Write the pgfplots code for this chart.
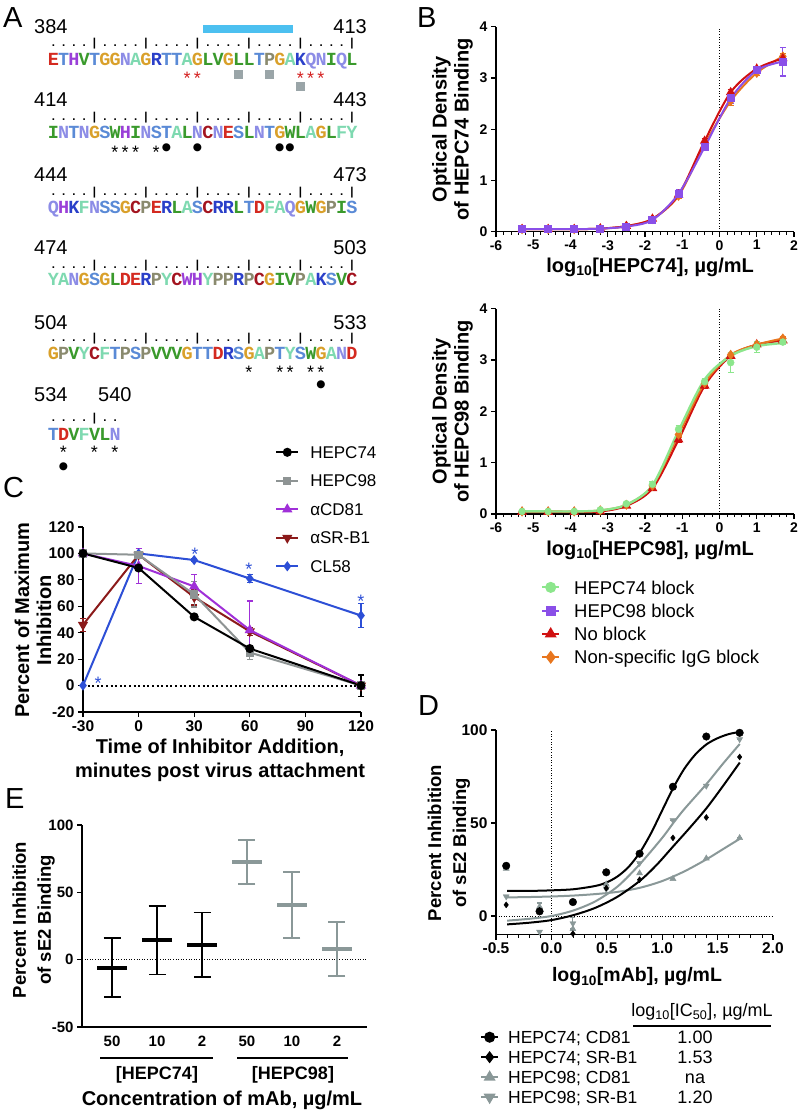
\documentclass[border=0pt]{standalone}
\usepackage{fontspec}
\setmainfont{Liberation Sans}
\newfontfamily\seqfont{Liberation Mono}
\newfontfamily\symfont{DejaVu Sans}
\usepackage{pgfplots}
\pgfplotsset{compat=1.18}
\newcommand\fs[2]{\fontsize{#1}{#2}\selectfont}
% residue colours
\definecolor{colE}{HTML}{D42A20}\definecolor{colD}{HTML}{D42A20}
\definecolor{colC}{HTML}{A3141F}
\definecolor{colT}{HTML}{5A8AD6}\definecolor{colS}{HTML}{5A8AD6}
\definecolor{colH}{HTML}{9A3FD8}\definecolor{colw}{HTML}{9A3FD8}
\definecolor{colV}{HTML}{3A9A2C}\definecolor{colL}{HTML}{3A9A2C}\definecolor{colI}{HTML}{3A9A2C}\definecolor{colW}{HTML}{3A9A2C}
\definecolor{colG}{HTML}{D9A02A}
\definecolor{colN}{HTML}{8C8CE6}\definecolor{colQ}{HTML}{8C8CE6}
\definecolor{colA}{HTML}{7ED9B0}\definecolor{colF}{HTML}{7ED9B0}\definecolor{colY}{HTML}{7ED9B0}
\definecolor{colR}{HTML}{2A3FC9}\definecolor{colK}{HTML}{2A3FC9}
\definecolor{colP}{HTML}{8A8A6E}
\definecolor{barblue}{HTML}{4CC0F0}
\definecolor{sqgray}{HTML}{9AA5A8}
\definecolor{astred}{HTML}{D42020}
% chart colours
\definecolor{grn}{HTML}{8CE68C}
\definecolor{pur}{HTML}{8A4FE8}
\definecolor{nored}{HTML}{D01010}
\definecolor{org}{HTML}{E8761E}
\definecolor{cgray}{HTML}{8E9494}
\definecolor{cpur}{HTML}{A030D8}
\definecolor{cdred}{HTML}{8B1A1A}
\definecolor{cblue}{HTML}{2D4FD6}
\definecolor{dgray}{HTML}{8A9898}
\makeatletter
\def\seq@loop#1{\ifx#1\relax\else\makebox[10.3pt]{\textcolor{col#1}{\uppercase{#1}}}\expandafter\seq@loop\fi}
\newcommand\seq[1]{{\seqfont\bfseries\fs{18.5}{18}\seq@loop#1\relax}}
\def\rul@loop#1{\ifx#1\relax\else\makebox[10.3pt]{#1}\expandafter\rul@loop\fi}
\newcommand\ruler[1]{{\bfseries\fs{11.5}{11}\rul@loop#1\relax}}
\makeatother
\newcommand\astm[3]{\node[anchor=base,inner sep=0,font=\fs{18}{18},text=#3] at ({53.15+10.3*#1},-#2) {*};}
\newcommand\dotm[2]{\node[anchor=center,inner sep=0,font=\symfont\fs{10.5}{10.5}] at ({53.15+10.3*#1},-#2) {●};}
\newcommand\sqm[2]{\node[anchor=center,inner sep=0] at ({53.15+10.3*#1},-#2) {\textcolor{sqgray}{\rule{9.5pt}{9.5pt}}};}
\pgfplotsset{
  myaxis/.style={
    scale only axis,
    axis lines=left,
    axis line style={-, line width=1.3pt, black},
    tick align=outside,
    major tick length=5pt,
    minor tick length=3pt,
    tick style={black, line width=1.1pt},
    minor tick style={line width=0.8pt},
    tick label style={font=\bfseries\fs{14}{14}},
    /pgf/number format/assume math mode=true,
    label style={font=\bfseries\fs{20}{22}, align=center},
    clip=false,
  },
  eb/.style={error bars/y dir=both, error bars/y explicit,
    error bars/error bar style={line width=1.2pt, solid},
    error bars/error mark options={rotate=90, mark size=#1, line width=1.2pt, solid}},
  eb/.default=3pt,
}
\begin{document}
\begin{tikzpicture}[x=1pt,y=1pt]
\path[use as bounding box] (0,0) rectangle (802,-1114);
% ================= Panel A =================
\node[anchor=base west,inner sep=0,font=\fs{29}{29}] at (3,-27) {A};
\fill[barblue] (203,-25) rectangle (293,-33);
% row 1
\node[anchor=base west,inner sep=0,font=\fs{20}{20}] at (34,-33) {384};
\node[anchor=base east,inner sep=0,font=\fs{20}{20}] at (367,-33) {413};
\node[anchor=base west,inner sep=0] at (48,-46.7) {\ruler{....|....|....|....|....|....|}};
\node[anchor=base west,inner sep=0] at (48,-65) {\seq{ETHVTGGNAGRTTAGLVGLLTPGAKQNIQL}};
\astm{13}{84.3}{astred}\astm{14}{84.3}{astred}
\astm{24}{84.3}{astred}\astm{25}{84.3}{astred}\astm{26}{84.3}{astred}
\sqm{18}{74.5}\sqm{21}{74.5}\sqm{24}{86.5}
% row 2
\node[anchor=base west,inner sep=0,font=\fs{20}{20}] at (34,-106) {414};
\node[anchor=base east,inner sep=0,font=\fs{20}{20}] at (367,-106) {443};
\node[anchor=base west,inner sep=0] at (48,-120) {\ruler{....|....|....|....|....|....|}};
\node[anchor=base west,inner sep=0] at (48,-138) {\seq{INTNGSWHINSTALNCNESLNTGWLAGLFY}};
\astm{6}{158.3}{black}\astm{7}{158.3}{black}\astm{8}{158.3}{black}\astm{10}{158.3}{black}
\dotm{11}{148}\dotm{14}{148}\dotm{22}{148}\dotm{23}{148}
% row 3
\node[anchor=base west,inner sep=0,font=\fs{20}{20}] at (34,-181) {444};
\node[anchor=base east,inner sep=0,font=\fs{20}{20}] at (367,-181) {473};
\node[anchor=base west,inner sep=0] at (48,-195) {\ruler{....|....|....|....|....|....|}};
\node[anchor=base west,inner sep=0] at (48,-213.5) {\seq{QHKFNSSGCPERLASCRRLTDFAQGWGPIS}};
% row 4
\node[anchor=base west,inner sep=0,font=\fs{20}{20}] at (34,-254) {474};
\node[anchor=base east,inner sep=0,font=\fs{20}{20}] at (367,-254) {503};
\node[anchor=base west,inner sep=0] at (48,-268) {\ruler{....|....|....|....|....|....|}};
\node[anchor=base west,inner sep=0] at (48,-285.5) {\seq{YANGSGLDERPYCwHYPPRPCGIVPAKSVC}};
% row 5
\node[anchor=base west,inner sep=0,font=\fs{20}{20}] at (34,-329) {504};
\node[anchor=base east,inner sep=0,font=\fs{20}{20}] at (367,-329) {533};
\node[anchor=base west,inner sep=0] at (48,-341) {\ruler{....|....|....|....|....|....|}};
\node[anchor=base west,inner sep=0] at (48,-359.5) {\seq{GPVYCFTPSPVVVGTTDRSGAPTYSWGAND}};
\astm{19}{378}{black}\astm{22}{378}{black}\astm{23}{378}{black}\astm{25}{378}{black}\astm{26}{378}{black}
\dotm{26}{385}
% row 6
\node[anchor=base west,inner sep=0,font=\fs{20}{20}] at (34,-401) {534};
\node[anchor=base west,inner sep=0,font=\fs{20}{20}] at (98,-401) {540};
\node[anchor=base west,inner sep=0] at (48,-421) {\ruler{....|..}};
\node[anchor=base west,inner sep=0] at (48,-440) {\seq{TDVFVLN}};
\astm{1}{458.5}{black}\astm{4}{458.5}{black}\astm{6}{458.5}{black}
\dotm{1}{466.5}
% ================= Panel letters =================
\node[anchor=base west,inner sep=0,font=\fs{29}{29}] at (417,-27) {B};
\node[anchor=base west,inner sep=0,font=\fs{29}{29}] at (3,-497) {C};
\node[anchor=base west,inner sep=0,font=\fs{29}{29}] at (418,-715) {D};
\node[anchor=base west,inner sep=0,font=\fs{29}{29}] at (5,-808) {E};
% ================= Panel B top =================
\begin{axis}[myaxis, at={(496pt,-231.7pt)}, anchor=south west, width=298pt, height=205pt,
  xmin=-6, xmax=2, ymin=0, ymax=4, xtick={-6,...,2}, ytick={0,...,4}, minor x tick num=4,
  ylabel={Optical Density\\of HEPC74 Binding},
  ylabel style={at={(axis description cs:-0.146,0.5)}, anchor=center},
  xlabel={log\textsubscript{10}[HEPC74], µg/mL},
  xlabel style={at={(axis description cs:0.517,-0.175)}, anchor=center}]
\addplot[forget plot, black, dotted, line width=0.7pt] coordinates {(0,0) (0,4)};
\addplot[forget plot, org, line width=2pt, smooth, mark=diamond*, mark size=3.5pt, mark options={solid}, eb] coordinates {
(-5.3,0.05) +- (0,0) (-4.6,0.05) +- (0,0) (-3.9,0.05) +- (0,0) (-3.2,0.06) +- (0,0) (-2.5,0.11) +- (0,0)
(-1.8,0.25) +- (0,0) (-1.1,0.70) +- (0,0.05) (-0.4,1.70) +- (0,0.05) (0.3,2.55) +- (0,0.08) (1.0,3.10) +- (0,0.05) (1.7,3.42) +- (0,0.05)};
\addplot[forget plot, nored, line width=2pt, smooth, mark=triangle*, mark size=3.5pt, mark options={solid}, eb] coordinates {
(-5.3,0.05) +- (0,0) (-4.6,0.05) +- (0,0) (-3.9,0.05) +- (0,0) (-3.2,0.06) +- (0,0) (-2.5,0.11) +- (0,0)
(-1.8,0.25) +- (0,0) (-1.1,0.72) +- (0,0.04) (-0.4,1.77) +- (0,0.05) (0.3,2.72) +- (0,0.05) (1.0,3.18) +- (0,0.03) (1.7,3.38) +- (0,0.03)};
\addplot[forget plot, pur, line width=2pt, smooth, mark=square*, mark size=3pt, mark options={solid}, eb] coordinates {
(-5.3,0.05) +- (0,0) (-4.6,0.05) +- (0,0) (-3.9,0.05) +- (0,0) (-3.2,0.06) +- (0,0) (-2.5,0.10) +- (0,0)
(-1.8,0.23) +- (0,0.02) (-1.1,0.74) +- (0,0.08) (-0.4,1.65) +- (0,0.04) (0.3,2.60) +- (0,0.1) (1.0,3.15) +- (0,0.05) (1.7,3.32) +- (0,0.28)};
\end{axis}
% ================= Panel B bottom =================
\begin{axis}[myaxis, at={(496pt,-514pt)}, anchor=south west, width=298pt, height=205.3pt,
  xmin=-6, xmax=2, ymin=0, ymax=4, xtick={-6,...,2}, ytick={0,...,4}, minor x tick num=4,
  ylabel={Optical Density\\of HEPC98 Binding},
  ylabel style={at={(axis description cs:-0.146,0.5)}, anchor=center},
  xlabel={log\textsubscript{10}[HEPC98], µg/mL},
  xlabel style={at={(axis description cs:0.517,-0.175)}, anchor=center},
  legend style={at={(axis description cs:0.151,-0.2996)}, anchor=north west, draw=none, fill=none,
    font=\fs{18.5}{18.5}, inner sep=0pt, nodes={inner sep=0pt, text height=18.3pt, text depth=5pt},
    column sep=14pt, row sep=0pt},
  legend cell align=left,
  legend image code/.code={\draw[mark repeat=2,mark phase=2] plot coordinates {(0pt,0pt) (8.5pt,0pt) (17pt,0pt)};}]
\addlegendimage{grn, line width=2pt, mark=*, mark size=4.5pt, mark options={solid}}
\addlegendimage{pur, line width=2pt, mark=square*, mark size=4pt, mark options={solid}}
\addlegendimage{nored, line width=2pt, mark=triangle*, mark size=5pt, mark options={solid}}
\addlegendimage{org, line width=2pt, mark=diamond*, mark size=5pt, mark options={solid}}
\legend{HEPC74 block, HEPC98 block, No block, Non-specific IgG block}
\addplot[forget plot, black, dotted, line width=0.7pt] coordinates {(0,0) (0,4)};
\addplot[forget plot, nored, line width=2.2pt, smooth, mark=triangle*, mark size=3.5pt, mark options={solid}, eb] coordinates {
(-5.3,0.04) +- (0,0) (-4.6,0.04) +- (0,0) (-3.9,0.04) +- (0,0) (-3.2,0.05) +- (0,0) (-2.5,0.16) +- (0,0.03)
(-1.8,0.50) +- (0,0.04) (-1.1,1.45) +- (0,0.05) (-0.4,2.50) +- (0,0.05) (0.3,3.08) +- (0,0.04) (1.0,3.30) +- (0,0.04) (1.7,3.38) +- (0,0.03)};
\addplot[forget plot, org, line width=2pt, smooth, mark=diamond*, mark size=3.5pt, mark options={solid}, eb] coordinates {
(-5.3,0.05) +- (0,0) (-4.6,0.05) +- (0,0) (-3.9,0.05) +- (0,0) (-3.2,0.07) +- (0,0) (-2.5,0.18) +- (0,0)
(-1.8,0.55) +- (0,0.03) (-1.1,1.55) +- (0,0.05) (-0.4,2.55) +- (0,0.05) (0.3,3.10) +- (0,0.05) (1.0,3.30) +- (0,0.05) (1.7,3.42) +- (0,0.03)};
\addplot[forget plot, grn, line width=2.4pt, smooth] coordinates {
(-5.3,0.05) (-4.6,0.05) (-3.9,0.05) (-3.2,0.07) (-2.5,0.18) (-1.8,0.56) (-1.1,1.62) (-0.4,2.62) (0.3,3.08) (1.0,3.27) (1.7,3.33)};
\addplot[forget plot, grn, only marks, mark=*, mark size=3.5pt, eb] coordinates {
(-5.3,0.05) +- (0,0) (-4.6,0.05) +- (0,0) (-3.9,0.05) +- (0,0) (-3.2,0.08) +- (0,0) (-2.5,0.20) +- (0,0.02)
(-1.8,0.58) +- (0,0.06) (-1.1,1.65) +- (0,0.07) (-0.4,2.58) +- (0,0.06) (0.3,2.95) +- (0,0.2) (1.0,3.25) +- (0,0.1) (1.7,3.35) +- (0,0.04)};
\end{axis}
% ================= Panel C =================
\begin{axis}[myaxis, at={(83pt,-712pt)}, anchor=south west, width=278pt, height=185pt,
  xmin=-30, xmax=120, ymin=-20, ymax=120, xtick={-30,0,30,60,90,120}, ytick={-20,0,20,...,120},
  tick label style={font=\bfseries\fs{15.5}{15.5}},
  ylabel={Percent of Maximum\\Inhibition},
  ylabel style={at={(axis description cs:-0.18,0.497)}, anchor=center, font=\bfseries\fs{20}{22}},
  xlabel={Time of Inhibitor Addition,\\minutes post virus attachment},
  xlabel style={at={(axis description cs:0.493,-0.26)}, anchor=center, font=\bfseries\fs{20}{24}},
  legend style={at={(axis description cs:0.691,1.482)}, anchor=north west, draw=none, fill=none,
    font=\fs{17}{17}, inner sep=0pt, nodes={inner sep=0pt, text height=20.3pt, text depth=8.2pt},
    column sep=11pt, row sep=0pt},
  legend cell align=left,
  legend image code/.code={\draw[mark repeat=2,mark phase=2] plot coordinates {(0pt,0pt) (11pt,0pt) (22pt,0pt)};}]
\addlegendimage{black, line width=2pt, mark=*, mark size=3.5pt, mark options={solid}}
\addlegendimage{cgray, line width=2pt, mark=square*, mark size=3.2pt, mark options={solid}}
\addlegendimage{cpur, line width=2pt, mark=triangle*, mark size=4pt, mark options={solid}}
\addlegendimage{cdred, line width=2pt, mark=triangle*, mark size=4pt, mark options={solid, rotate=180}}
\addlegendimage{cblue, line width=2pt, mark=diamond*, mark size=3.5pt, mark options={solid}}
\legend{HEPC74, HEPC98, αCD81, αSR-B1, CL58}
\addplot[forget plot, black, line width=2pt, dash pattern=on 2pt off 2.6pt] coordinates {(-30,0) (120,0)};
\addplot[forget plot, cblue, line width=2pt, mark=diamond*, mark size=3.5pt, mark options={solid}, eb] coordinates {
(-30,0) +- (0,0) (0,100) +- (0,1) (30,95) +- (0,1) (60,81) +- (0,3) (120,53) +- (0,9)};
\addplot[forget plot, cdred, line width=2pt, mark=triangle*, mark size=4pt, mark options={solid, rotate=180}, eb] coordinates {
(-30,46) +- (0,5) (0,99) +- (0,2) (30,67) +- (0,6) (60,41) +- (0,3) (120,0) +- (0,1)};
\addplot[forget plot, cpur, line width=2pt, mark=triangle*, mark size=4pt, mark options={solid}, eb] coordinates {
(-30,100) +- (0,0) (0,90.5) +- (0,13.5) (30,75) +- (0,9) (60,42) +- (0,22) (120,0) +- (0,1)};
\addplot[forget plot, cgray, line width=2pt, mark=square*, mark size=3.2pt, mark options={solid}, eb] coordinates {
(-30,100) +- (0,0) (0,99) +- (0,2) (30,69) +- (0,9.5) (60,25) +- (0,5) (120,0) +- (0,1)};
\addplot[forget plot, black, line width=2pt, mark=*, mark size=3.5pt, mark options={solid}, eb] coordinates {
(-30,100) +- (0,0) (0,89) +- (0,1) (30,52) +- (0,1) (60,28) +- (0,2) (120,0) +- (0,8)};
\node[anchor=base, inner sep=0, text=cblue, font=\fs{18}{18}] at (axis cs:-21.9,-3.2) {*};
\node[anchor=base, inner sep=0, text=cblue, font=\fs{18}{18}] at (axis cs:30.4,94.3) {*};
\node[anchor=base, inner sep=0, text=cblue, font=\fs{18}{18}] at (axis cs:59.5,83) {*};
\node[anchor=base, inner sep=0, text=cblue, font=\fs{18}{18}] at (axis cs:119.9,59) {*};
\end{axis}
% ================= Panel D =================
\begin{axis}[myaxis, at={(496pt,-934.6pt)}, anchor=south west, width=277pt, height=204.6pt,
  xmin=-0.5, xmax=2, ymin=-10, ymax=100, xtick={-0.5,0,0.5,1,1.5,2}, ytick={0,50,100}, minor x tick num=4,
  tick label style={font=\bfseries\fs{15.5}{15.5}},
  xticklabel style={/pgf/number format/.cd, fixed, fixed zerofill, precision=1},
  ylabel={Percent Inhibition\\of sE2 Binding},
  ylabel style={at={(axis description cs:-0.17,0.448)}, anchor=center, font=\bfseries\fs{18.5}{25}},
  xlabel={log\textsubscript{10}[mAb], µg/mL},
  xlabel style={at={(axis description cs:0.509,-0.207)}, anchor=center, font=\bfseries\fs{19.5}{20}},
  legend style={at={(axis description cs:-0.058,-0.4516)}, anchor=north west, draw=none, fill=none,
    font=\fs{17.5}{17.5}, inner sep=0pt, nodes={inner sep=0pt, text height=16.3pt, text depth=3.7pt},
    column sep=9pt, row sep=0pt},
  legend cell align=left,
  legend image code/.code={\draw[mark repeat=2,mark phase=2] plot coordinates {(0pt,0pt) (8.5pt,0pt) (17pt,0pt)};}]
\addlegendimage{black, line width=2pt, mark=*, mark size=4.5pt, mark options={solid}}
\addlegendimage{black, line width=2pt, mark=diamond*, mark size=4.5pt, mark options={solid}}
\addlegendimage{dgray, line width=2pt, mark=triangle*, mark size=5pt, mark options={solid}}
\addlegendimage{dgray, line width=2pt, mark=triangle*, mark size=5pt, mark options={solid, rotate=180}}
\legend{HEPC74; CD81, HEPC74; SR-B1, HEPC98; CD81, HEPC98; SR-B1}
\addplot[forget plot, black, dotted, line width=0.6pt] coordinates {(0,-10) (0,100)};
\addplot[forget plot, black, dotted, line width=0.6pt] coordinates {(-0.5,0) (2,0)};
% fitted curves
\addplot[forget plot, dgray, line width=2pt, smooth] coordinates {
(-0.4,10) (-0.2,10.2) (0,10.5) (0.2,11) (0.4,11.8) (0.6,13) (0.8,15.2) (1.0,18.8) (1.2,24) (1.4,30.5) (1.55,36) (1.7,41.5)};
\addplot[forget plot, dgray, line width=2pt, smooth] coordinates {
(-0.4,-2.5) (-0.2,-1.5) (0,0) (0.2,3) (0.4,8) (0.6,16) (0.8,28) (1.0,42) (1.1,50) (1.2,57.5) (1.4,71) (1.55,82) (1.7,92.5)};
\addplot[forget plot, black, line width=2pt, smooth] coordinates {
(-0.4,-4.5) (-0.2,-3.6) (0,-2.2) (0.2,0.5) (0.4,4.5) (0.6,10.5) (0.8,19) (0.95,27.5) (1.1,37.5) (1.25,47.5) (1.4,58) (1.55,70) (1.7,82.5)};
\addplot[forget plot, black, line width=2pt, smooth] coordinates {
(-0.4,13.5) (-0.2,13.5) (0,13.8) (0.2,14.4) (0.4,16.2) (0.5,18.1) (0.6,21.4) (0.7,26.6) (0.8,34.3) (0.9,44.6) (1.0,56.8) (1.1,68.9) (1.2,79.2) (1.3,86.9) (1.4,92.3) (1.5,95.6) (1.6,97.8) (1.7,99.0)};
% data points
\addplot[forget plot, dgray, only marks, mark=triangle*, mark size=3.5pt, eb=2.5pt] coordinates {
(-0.408,25.5) +- (0,0) (-0.107,5) +- (0,2) (0.194,-7) +- (0,0) (0.495,17) +- (0,0) (0.796,23) +- (0,0) (1.097,20) +- (0,0) (1.398,31) +- (0,0) (1.699,42) +- (0,0)};
\addplot[forget plot, dgray, only marks, mark=triangle*, mark size=3.5pt, mark options={rotate=180}, eb=2.5pt] coordinates {
(-0.408,10.5) +- (0,0) (-0.107,-8.5) +- (0,0) (0.194,-4) +- (0,3) (0.495,14.5) +- (0,0) (0.796,28.5) +- (0,0) (1.097,51.5) +- (0,0) (1.398,70) +- (0,0) (1.699,95) +- (0,0)};
\addplot[forget plot, black, only marks, mark=diamond*, mark size=3pt] coordinates {
(-0.408,6) (-0.107,3) (0.194,-9.5) (0.495,15) (0.796,19.5) (1.097,42) (1.398,53) (1.699,85.5)};
\addplot[forget plot, black, only marks, mark=*, mark size=3.8pt] coordinates {
(-0.408,27) (-0.107,2.5) (0.194,7.5) (0.495,23.5) (0.796,33.5) (1.097,69.5) (1.398,96.5) (1.699,98.5)};
\end{axis}
% D table
\node[anchor=base, inner sep=0, font=\fs{18}{18}] at (702,-1016.4) {log\textsubscript{10}[IC\textsubscript{50}], µg/mL};
\draw[line width=1.5pt] (633,-1026) -- (771,-1026);
\node[anchor=base, inner sep=0, font=\fs{18}{18}] at (695,-1043.4) {1.00};
\node[anchor=base, inner sep=0, font=\fs{18}{18}] at (695,-1063.4) {1.53};
\node[anchor=base, inner sep=0, font=\fs{18}{18}] at (695,-1083.4) {na};
\node[anchor=base, inner sep=0, font=\fs{18}{18}] at (695,-1103.4) {1.20};
% ================= Panel E =================
\begin{axis}[myaxis, at={(82pt,-1027pt)}, anchor=south west, width=285pt, height=202pt,
  xmin=0.333, xmax=6.667, ymin=-50, ymax=100, xtick={1,...,6}, xticklabels={50,10,2,50,10,2},
  ytick={-50,0,50,100}, xtick style={draw=none},
  tick label style={font=\bfseries\fs{15}{15}},
  ylabel={Percent Inhibition\\of sE2 Binding},
  ylabel style={at={(axis description cs:-0.17,0.53)}, anchor=center, font=\bfseries\fs{18.5}{25}}]
\addplot[forget plot, black, dotted, line width=0.6pt] coordinates {(0.333,0) (6.667,0)};
\addplot[forget plot, black, only marks, mark=-, mark size=15pt, mark options={line width=4pt},
  error bars/y dir=both, error bars/y explicit,
  error bars/error bar style={line width=1.8pt},
  error bars/error mark options={rotate=90, mark size=8.5pt, line width=1.8pt}] coordinates {
(1,-6) +- (0,22) (2,14.5) +- (0,25.5) (3,11) +- (0,24)};
\addplot[forget plot, dgray, only marks, mark=-, mark size=15pt, mark options={line width=4pt},
  error bars/y dir=both, error bars/y explicit,
  error bars/error bar style={line width=1.8pt},
  error bars/error mark options={rotate=90, mark size=8.5pt, line width=1.8pt}] coordinates {
(4,72.5) +- (0,16.5) (5,40.5) +- (0,24.5) (6,8) +- (0,20)};
\end{axis}
\draw[line width=2.8pt] (100,-1058) -- (213,-1058);
\draw[line width=2.8pt] (237,-1058) -- (348,-1058);
\node[anchor=center, inner sep=0, font=\bfseries\fs{18}{18}] at (157,-1075) {[HEPC74]};
\node[anchor=center, inner sep=0, font=\bfseries\fs{18}{18}] at (293,-1075) {[HEPC98]};
\node[anchor=center, inner sep=0, font=\bfseries\fs{20}{20}] at (222,-1100) {Concentration of mAb, µg/mL};
\end{tikzpicture}
\end{document}
